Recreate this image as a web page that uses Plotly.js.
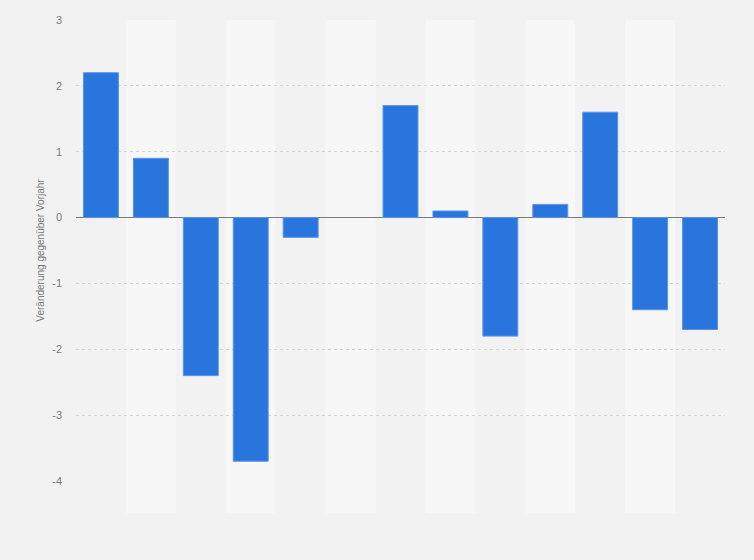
<!DOCTYPE html>
<html><head><meta charset="utf-8">
<script src="https://cdn.plot.ly/plotly-3.0.1.min.js"></script>
<style>html,body{margin:0;padding:0;background:#f2f2f2;}#chart{width:754px;height:560px;}</style>
</head><body><div id="chart"></div>
<script>
const categories = ['1','2','3','4','5','6','7','8','9','10','11','12','13'];
const values = [2.2, 0.9, -2.4, -3.7, -0.3, 0, 1.7, 0.1, -1.8, 0.2, 1.6, -1.4, -1.7];
const yTicks = [-4, -3, -2, -1, 0, 1, 2, 3];
const yTitle = 'Veränderung gegenüber Vorjahr';

const shapes = [];
categories.forEach((c, i) => {
  if (i % 2 === 1) {
    shapes.push({type:'rect', xref:'x', yref:'paper', x0:i-0.5, x1:i+0.5, y0:-0.07, y1:1,
      fillcolor:'#f7f7f7', line:{width:0}, layer:'below'});
  }
});

const trace = {
  type:'bar', x:categories, y:values,
  marker:{color:'#2876dd', line:{color:'#5a95e6', width:values.map(v => v === 0 ? 0 : 1)}},
  hoverinfo:'y'
};

const layout = {
  width:754, height:560,
  margin:{l:76, r:29, t:20, b:79},
  paper_bgcolor:'#f2f2f2', plot_bgcolor:'#f2f2f2',
  bargap:0.3,
  showlegend:false,
  font:{family:'"Liberation Sans", Arial, sans-serif', color:'#777'},
  xaxis:{type:'category', showticklabels:false, showgrid:false, zeroline:false, showline:false, ticks:''},
  yaxis:{range:[-4, 3], tickvals:yTicks, ticktext:yTicks.map(String),
    showgrid:true, gridcolor:'#d6d6d6', griddash:'dot', gridwidth:1,
    zeroline:true, zerolinecolor:'#7a7a7a', zerolinewidth:1.5,
    showline:false, ticks:'', ticklabelstandoff:13,
    tickfont:{size:11, color:'#7a7a7a'},
    title:{text:yTitle, font:{size:10, color:'#777'}, standoff:5}},
  shapes:shapes
};

Plotly.newPlot('chart', [trace], layout, {displayModeBar:false, staticPlot:true});
</script></body></html>
